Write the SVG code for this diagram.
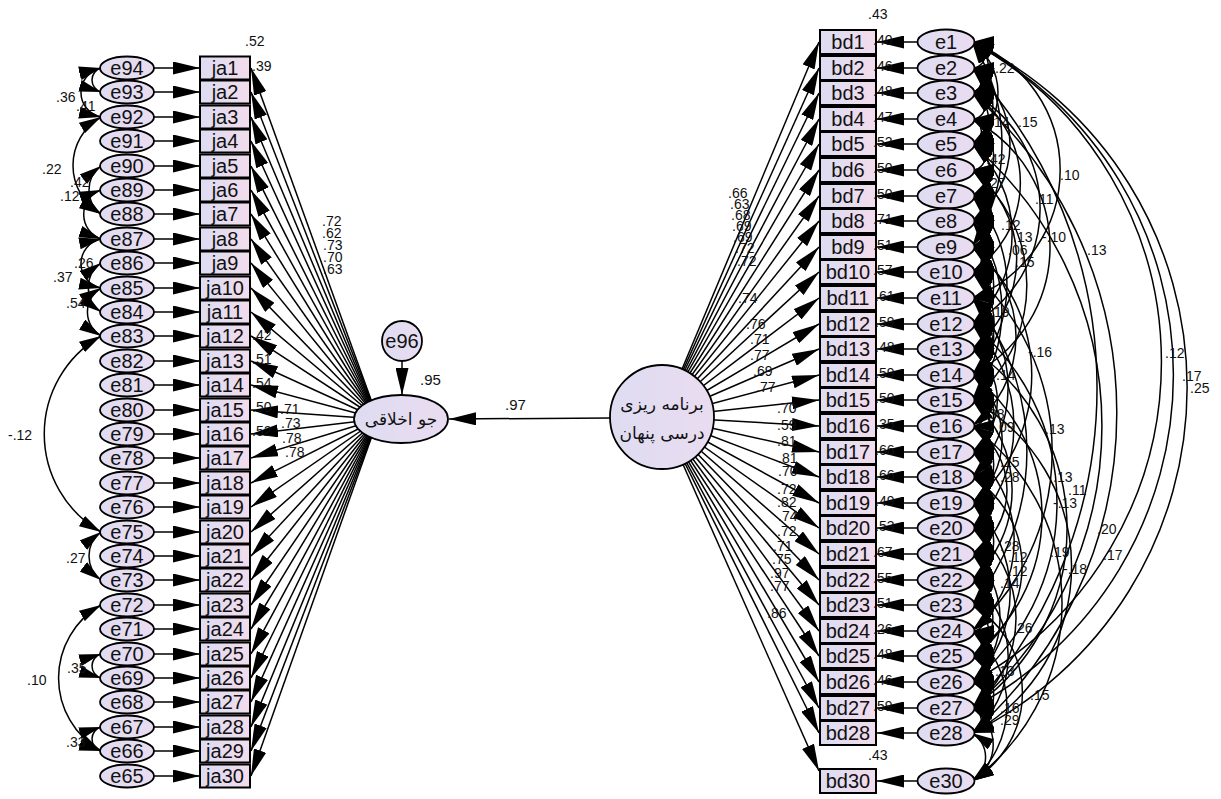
<svg xmlns="http://www.w3.org/2000/svg" width="1221" height="799" viewBox="0 0 1221 799">
<defs>
<style>
.c{fill:none;stroke:#000;stroke-width:1.5}
.f{marker-end:url(#ah)}
.a{fill:none;stroke:#000;stroke-width:1.5;marker-start:url(#as);marker-end:url(#ae)}
.el{fill:url(#gE);stroke:#000;stroke-width:1.8}
.bx{fill:url(#gB);stroke:#000;stroke-width:2}
.n{font-family:"Liberation Sans",Arial,sans-serif;font-size:20px;text-anchor:middle;fill:#111}
.l{font-family:"Liberation Sans",Arial,sans-serif;font-size:14px;fill:#111}
.ar{font-family:"DejaVu Sans","Noto Sans",sans-serif;font-size:17px;text-anchor:middle;fill:#111}
</style>
<linearGradient id="gB" x1="0" y1="0" x2="1" y2="0"><stop offset="0" stop-color="#dcdcf2"/><stop offset="1" stop-color="#f2dcec"/></linearGradient>
<linearGradient id="gE" x1="0" y1="0" x2="1" y2="0"><stop offset="0" stop-color="#dedcf2"/><stop offset="1" stop-color="#eadcf0"/></linearGradient>
<marker id="ah" markerUnits="userSpaceOnUse" markerWidth="27" markerHeight="13" refX="27" refY="6.5" orient="auto" viewBox="0 0 27 13"><path d="M0,0L27,6.5L0,13z" fill="#000"/></marker>
<marker id="ae" markerUnits="userSpaceOnUse" markerWidth="22" markerHeight="12" refX="22" refY="6" orient="auto" viewBox="0 0 22 12"><path d="M0,0L22,6L0,12z" fill="#000"/></marker>
<marker id="as" markerUnits="userSpaceOnUse" markerWidth="22" markerHeight="12" refX="22" refY="6" orient="auto-start-reverse" viewBox="0 0 22 12"><path d="M0,0L22,6L0,12z" fill="#000"/></marker>
</defs>
<rect width="1221" height="799" fill="#fff"/>
<g id="connectors">
<g class="c f">
<line x1="154" y1="68" x2="200" y2="68"/><line x1="154" y1="92" x2="200" y2="92"/><line x1="154" y1="117" x2="200" y2="117"/><line x1="154" y1="141" x2="200" y2="141"/><line x1="154" y1="166" x2="200" y2="166"/><line x1="154" y1="190" x2="200" y2="190"/><line x1="154" y1="214" x2="200" y2="214"/><line x1="154" y1="239" x2="200" y2="239"/><line x1="154" y1="263" x2="200" y2="263"/><line x1="154" y1="288" x2="200" y2="288"/><line x1="154" y1="312" x2="200" y2="312"/><line x1="154" y1="336" x2="200" y2="336"/><line x1="154" y1="361" x2="200" y2="361"/><line x1="154" y1="385" x2="200" y2="385"/><line x1="154" y1="410" x2="200" y2="410"/><line x1="154" y1="434" x2="200" y2="434"/><line x1="154" y1="458" x2="200" y2="458"/><line x1="154" y1="483" x2="200" y2="483"/><line x1="154" y1="507" x2="200" y2="507"/><line x1="154" y1="532" x2="200" y2="532"/><line x1="154" y1="556" x2="200" y2="556"/><line x1="154" y1="580" x2="200" y2="580"/><line x1="154" y1="605" x2="200" y2="605"/><line x1="154" y1="629" x2="200" y2="629"/><line x1="154" y1="654" x2="200" y2="654"/><line x1="154" y1="678" x2="200" y2="678"/><line x1="154" y1="702" x2="200" y2="702"/><line x1="154" y1="727" x2="200" y2="727"/><line x1="154" y1="751" x2="200" y2="751"/><line x1="154" y1="776" x2="200" y2="776"/>
<line x1="378" y1="419" x2="251" y2="68"/><line x1="378" y1="419" x2="251" y2="92"/><line x1="378" y1="419" x2="251" y2="117"/><line x1="378" y1="419" x2="251" y2="141"/><line x1="378" y1="419" x2="251" y2="166"/><line x1="378" y1="419" x2="251" y2="190"/><line x1="378" y1="419" x2="251" y2="214"/><line x1="378" y1="419" x2="251" y2="239"/><line x1="378" y1="419" x2="251" y2="263"/><line x1="378" y1="419" x2="251" y2="288"/><line x1="378" y1="419" x2="251" y2="312"/><line x1="378" y1="419" x2="251" y2="336"/><line x1="378" y1="419" x2="251" y2="361"/><line x1="378" y1="419" x2="251" y2="385"/><line x1="378" y1="419" x2="251" y2="410"/><line x1="378" y1="419" x2="251" y2="434"/><line x1="378" y1="419" x2="251" y2="458"/><line x1="378" y1="419" x2="251" y2="483"/><line x1="378" y1="419" x2="251" y2="507"/><line x1="378" y1="419" x2="251" y2="532"/><line x1="378" y1="419" x2="251" y2="556"/><line x1="378" y1="419" x2="251" y2="580"/><line x1="378" y1="419" x2="251" y2="605"/><line x1="378" y1="419" x2="251" y2="629"/><line x1="378" y1="419" x2="251" y2="654"/><line x1="378" y1="419" x2="251" y2="678"/><line x1="378" y1="419" x2="251" y2="702"/><line x1="378" y1="419" x2="251" y2="727"/><line x1="378" y1="419" x2="251" y2="751"/><line x1="378" y1="419" x2="251" y2="776"/>
<line x1="402" y1="361" x2="402" y2="395"/>
<line x1="610" y1="418" x2="449" y2="419"/>
<line x1="662" y1="417" x2="819" y2="42"/><line x1="662" y1="417" x2="819" y2="68"/><line x1="662" y1="417" x2="819" y2="93"/><line x1="662" y1="417" x2="819" y2="119"/><line x1="662" y1="417" x2="819" y2="144"/><line x1="662" y1="417" x2="819" y2="170"/><line x1="662" y1="417" x2="819" y2="196"/><line x1="662" y1="417" x2="819" y2="221"/><line x1="662" y1="417" x2="819" y2="247"/><line x1="662" y1="417" x2="819" y2="272"/><line x1="662" y1="417" x2="819" y2="298"/><line x1="662" y1="417" x2="819" y2="324"/><line x1="662" y1="417" x2="819" y2="349"/><line x1="662" y1="417" x2="819" y2="375"/><line x1="662" y1="417" x2="819" y2="400"/><line x1="662" y1="417" x2="819" y2="426"/><line x1="662" y1="417" x2="819" y2="452"/><line x1="662" y1="417" x2="819" y2="477"/><line x1="662" y1="417" x2="819" y2="503"/><line x1="662" y1="417" x2="819" y2="528"/><line x1="662" y1="417" x2="819" y2="554"/><line x1="662" y1="417" x2="819" y2="580"/><line x1="662" y1="417" x2="819" y2="605"/><line x1="662" y1="417" x2="819" y2="631"/><line x1="662" y1="417" x2="819" y2="656"/><line x1="662" y1="417" x2="819" y2="682"/><line x1="662" y1="417" x2="819" y2="708"/><line x1="662" y1="417" x2="819" y2="733"/><line x1="662" y1="417" x2="819" y2="771"/>
<line x1="917" y1="42" x2="877" y2="42"/><line x1="917" y1="68" x2="877" y2="68"/><line x1="917" y1="93" x2="877" y2="93"/><line x1="917" y1="119" x2="877" y2="119"/><line x1="917" y1="144" x2="877" y2="144"/><line x1="917" y1="170" x2="877" y2="170"/><line x1="917" y1="196" x2="877" y2="196"/><line x1="917" y1="221" x2="877" y2="221"/><line x1="917" y1="247" x2="877" y2="247"/><line x1="917" y1="272" x2="877" y2="272"/><line x1="917" y1="298" x2="877" y2="298"/><line x1="917" y1="324" x2="877" y2="324"/><line x1="917" y1="349" x2="877" y2="349"/><line x1="917" y1="375" x2="877" y2="375"/><line x1="917" y1="400" x2="877" y2="400"/><line x1="917" y1="426" x2="877" y2="426"/><line x1="917" y1="452" x2="877" y2="452"/><line x1="917" y1="477" x2="877" y2="477"/><line x1="917" y1="503" x2="877" y2="503"/><line x1="917" y1="528" x2="877" y2="528"/><line x1="917" y1="554" x2="877" y2="554"/><line x1="917" y1="580" x2="877" y2="580"/><line x1="917" y1="605" x2="877" y2="605"/><line x1="917" y1="631" x2="877" y2="631"/><line x1="917" y1="656" x2="877" y2="656"/><line x1="917" y1="682" x2="877" y2="682"/><line x1="917" y1="708" x2="877" y2="708"/><line x1="917" y1="733" x2="877" y2="733"/><line x1="917" y1="781" x2="877" y2="781"/>
</g>
<g>
<path class="a" d="M101,68A25,25 0 0 0 101,117"/><path class="a" d="M101,68A12.5,12.5 0 0 0 101,92"/><path class="a" d="M101,117A56,56 0 0 0 101,214"/><path class="a" d="M101,166A30,30 0 0 0 101,214"/><path class="a" d="M101,190A26,26 0 0 0 101,239"/><path class="a" d="M101,239A25,25 0 0 0 101,288"/><path class="a" d="M101,263A30,30 0 0 0 101,312"/><path class="a" d="M101,288A28,28 0 0 0 101,336"/><path class="a" d="M101,336A113,113 0 0 0 101,532"/><path class="a" d="M101,532A30,30 0 0 0 101,580"/><path class="a" d="M101,605A84,84 0 0 0 101,751"/><path class="a" d="M101,654A12.5,12.5 0 0 0 101,678"/><path class="a" d="M101,727A12.5,12.5 0 0 0 101,751"/>
</g>
<g>
<path class="a" d="M972,42A13,13 0 0 1 972,68"/><path class="a" d="M972,68A13,13 0 0 1 972,93"/><path class="a" d="M972,93A13,13 0 0 1 972,119"/><path class="a" d="M972,119A13,13 0 0 1 972,144"/><path class="a" d="M972,144A13,13 0 0 1 972,170"/><path class="a" d="M972,170A13,13 0 0 1 972,196"/><path class="a" d="M972,196A13,13 0 0 1 972,221"/><path class="a" d="M972,221A13,13 0 0 1 972,247"/><path class="a" d="M972,247A13,13 0 0 1 972,272"/><path class="a" d="M972,272A13,13 0 0 1 972,298"/><path class="a" d="M972,298A13,13 0 0 1 972,324"/><path class="a" d="M972,324A13,13 0 0 1 972,349"/><path class="a" d="M972,349A13,13 0 0 1 972,375"/><path class="a" d="M972,375A13,13 0 0 1 972,400"/><path class="a" d="M972,400A13,13 0 0 1 972,426"/><path class="a" d="M972,426A13,13 0 0 1 972,452"/><path class="a" d="M972,452A13,13 0 0 1 972,477"/><path class="a" d="M972,477A13,13 0 0 1 972,503"/><path class="a" d="M972,503A13,13 0 0 1 972,528"/><path class="a" d="M972,528A13,13 0 0 1 972,554"/><path class="a" d="M972,554A13,13 0 0 1 972,580"/><path class="a" d="M972,580A13,13 0 0 1 972,605"/><path class="a" d="M972,605A13,13 0 0 1 972,631"/><path class="a" d="M972,631A13,13 0 0 1 972,656"/><path class="a" d="M972,656A13,13 0 0 1 972,682"/><path class="a" d="M972,682A13,13 0 0 1 972,708"/><path class="a" d="M972,708A13,13 0 0 1 972,733"/>
<path class="a" d="M972,42A28,28 0 0 1 972,93"/><path class="a" d="M972,93A28,28 0 0 1 972,144"/><path class="a" d="M972,144A28,28 0 0 1 972,196"/><path class="a" d="M972,170A28,28 0 0 1 972,221"/><path class="a" d="M972,196A28,28 0 0 1 972,247"/><path class="a" d="M972,221A28,28 0 0 1 972,272"/><path class="a" d="M972,272A28,28 0 0 1 972,324"/><path class="a" d="M972,324A28,28 0 0 1 972,375"/><path class="a" d="M972,349A28,28 0 0 1 972,400"/><path class="a" d="M972,400A28,28 0 0 1 972,452"/><path class="a" d="M972,452A28,28 0 0 1 972,503"/><path class="a" d="M972,477A28,28 0 0 1 972,528"/><path class="a" d="M972,503A28,28 0 0 1 972,554"/><path class="a" d="M972,528A28,28 0 0 1 972,580"/><path class="a" d="M972,554A28,28 0 0 1 972,605"/><path class="a" d="M972,605A28,28 0 0 1 972,656"/><path class="a" d="M972,631A28,28 0 0 1 972,682"/><path class="a" d="M972,656A28,28 0 0 1 972,708"/><path class="a" d="M972,682A28,28 0 0 1 972,733"/><path class="a" d="M972,733A28,28 0 0 1 972,781"/>
<path class="a" d="M972,68A45,45 0 0 1 972,144"/><path class="a" d="M972,119A45,45 0 0 1 972,196"/><path class="a" d="M972,247A45,45 0 0 1 972,324"/><path class="a" d="M972,298A45,45 0 0 1 972,375"/><path class="a" d="M972,375A45,45 0 0 1 972,452"/><path class="a" d="M972,426A45,45 0 0 1 972,503"/><path class="a" d="M972,503A45,45 0 0 1 972,580"/><path class="a" d="M972,580A45,45 0 0 1 972,656"/><path class="a" d="M972,656A45,45 0 0 1 972,733"/><path class="a" d="M972,708A42,42 0 0 1 972,781"/>
<path class="a" d="M972,42A190,190 0 0 1 972,247"/><path class="a" d="M972,68A96,96 0 0 1 972,221"/><path class="a" d="M972,42A63,63 0 0 1 972,144"/><path class="a" d="M972,93A107,107 0 0 1 972,272"/><path class="a" d="M972,144A121,121 0 0 1 972,324"/><path class="a" d="M972,170A112,112 0 0 1 972,349"/><path class="a" d="M972,196A132,132 0 0 1 972,375"/><path class="a" d="M972,221A149,149 0 0 1 972,400"/><path class="a" d="M972,247A113,113 0 0 1 972,426"/><path class="a" d="M972,298A129,129 0 0 1 972,477"/><path class="a" d="M972,324A145,145 0 0 1 972,528"/><path class="a" d="M972,375A83,83 0 0 1 972,503"/><path class="a" d="M972,400A121,121 0 0 1 972,580"/><path class="a" d="M972,426A76,76 0 0 1 972,554"/><path class="a" d="M972,452A116,116 0 0 1 972,631"/><path class="a" d="M972,477A105,105 0 0 1 972,656"/><path class="a" d="M972,503A124,124 0 0 1 972,682"/><path class="a" d="M972,528A114,114 0 0 1 972,708"/><path class="a" d="M972,580A99,99 0 0 1 972,733"/><path class="a" d="M972,605A102,102 0 0 1 972,781"/><path class="a" d="M972,554A87,87 0 0 1 972,682"/><path class="a" d="M972,631A98,98 0 0 1 972,781"/><path class="a" d="M972,349A65,65 0 0 1 972,452"/><path class="a" d="M972,272A71,71 0 0 1 972,375"/>
<path class="a" d="M972,42A137,137 0 0 1 972,298"/><path class="a" d="M972,93A132,132 0 0 1 972,324"/><path class="a" d="M972,119A144,144 0 0 1 972,375"/><path class="a" d="M972,68A472,472 0 0 1 972,708"/><path class="a" d="M972,272A241,241 0 0 1 972,631"/><path class="a" d="M972,324A231,231 0 0 1 972,682"/><path class="a" d="M972,375A176,176 0 0 1 972,656"/><path class="a" d="M972,349A217,217 0 0 1 972,708"/><path class="a" d="M972,400A189,189 0 0 1 972,733"/><path class="a" d="M972,426A220,220 0 0 1 972,781"/><path class="a" d="M972,144A371,371 0 0 1 972,708"/><path class="a" d="M972,93A426,426 0 0 1 972,733"/><path class="a" d="M972,298A242,242 0 0 1 972,605"/><path class="a" d="M972,247A167,167 0 0 1 972,503"/><path class="a" d="M972,170A148,148 0 0 1 972,400"/>
<path class="a" d="M972,42A365,365 0 0 1 972,682"/><path class="a" d="M972,42A376,376 0 0 1 972,708"/><path class="a" d="M972,42A385,385 0 0 1 972,733"/>
</g>
</g>
<g id="nodes-left">
<g id="e94"><ellipse class="el" cx="127" cy="68" rx="27" ry="11.5"/><text class="n" x="127" y="75">e94</text></g>
<g id="e93"><ellipse class="el" cx="127" cy="92" rx="27" ry="11.5"/><text class="n" x="127" y="99">e93</text></g>
<g id="e92"><ellipse class="el" cx="127" cy="117" rx="27" ry="11.5"/><text class="n" x="127" y="124">e92</text></g>
<g id="e91"><ellipse class="el" cx="127" cy="141" rx="27" ry="11.5"/><text class="n" x="127" y="148">e91</text></g>
<g id="e90"><ellipse class="el" cx="127" cy="166" rx="27" ry="11.5"/><text class="n" x="127" y="173">e90</text></g>
<g id="e89"><ellipse class="el" cx="127" cy="190" rx="27" ry="11.5"/><text class="n" x="127" y="197">e89</text></g>
<g id="e88"><ellipse class="el" cx="127" cy="214" rx="27" ry="11.5"/><text class="n" x="127" y="221">e88</text></g>
<g id="e87"><ellipse class="el" cx="127" cy="239" rx="27" ry="11.5"/><text class="n" x="127" y="246">e87</text></g>
<g id="e86"><ellipse class="el" cx="127" cy="263" rx="27" ry="11.5"/><text class="n" x="127" y="270">e86</text></g>
<g id="e85"><ellipse class="el" cx="127" cy="288" rx="27" ry="11.5"/><text class="n" x="127" y="295">e85</text></g>
<g id="e84"><ellipse class="el" cx="127" cy="312" rx="27" ry="11.5"/><text class="n" x="127" y="319">e84</text></g>
<g id="e83"><ellipse class="el" cx="127" cy="336" rx="27" ry="11.5"/><text class="n" x="127" y="343">e83</text></g>
<g id="e82"><ellipse class="el" cx="127" cy="361" rx="27" ry="11.5"/><text class="n" x="127" y="368">e82</text></g>
<g id="e81"><ellipse class="el" cx="127" cy="385" rx="27" ry="11.5"/><text class="n" x="127" y="392">e81</text></g>
<g id="e80"><ellipse class="el" cx="127" cy="410" rx="27" ry="11.5"/><text class="n" x="127" y="417">e80</text></g>
<g id="e79"><ellipse class="el" cx="127" cy="434" rx="27" ry="11.5"/><text class="n" x="127" y="441">e79</text></g>
<g id="e78"><ellipse class="el" cx="127" cy="458" rx="27" ry="11.5"/><text class="n" x="127" y="465">e78</text></g>
<g id="e77"><ellipse class="el" cx="127" cy="483" rx="27" ry="11.5"/><text class="n" x="127" y="490">e77</text></g>
<g id="e76"><ellipse class="el" cx="127" cy="507" rx="27" ry="11.5"/><text class="n" x="127" y="514">e76</text></g>
<g id="e75"><ellipse class="el" cx="127" cy="532" rx="27" ry="11.5"/><text class="n" x="127" y="539">e75</text></g>
<g id="e74"><ellipse class="el" cx="127" cy="556" rx="27" ry="11.5"/><text class="n" x="127" y="563">e74</text></g>
<g id="e73"><ellipse class="el" cx="127" cy="580" rx="27" ry="11.5"/><text class="n" x="127" y="587">e73</text></g>
<g id="e72"><ellipse class="el" cx="127" cy="605" rx="27" ry="11.5"/><text class="n" x="127" y="612">e72</text></g>
<g id="e71"><ellipse class="el" cx="127" cy="629" rx="27" ry="11.5"/><text class="n" x="127" y="636">e71</text></g>
<g id="e70"><ellipse class="el" cx="127" cy="654" rx="27" ry="11.5"/><text class="n" x="127" y="661">e70</text></g>
<g id="e69"><ellipse class="el" cx="127" cy="678" rx="27" ry="11.5"/><text class="n" x="127" y="685">e69</text></g>
<g id="e68"><ellipse class="el" cx="127" cy="702" rx="27" ry="11.5"/><text class="n" x="127" y="709">e68</text></g>
<g id="e67"><ellipse class="el" cx="127" cy="727" rx="27" ry="11.5"/><text class="n" x="127" y="734">e67</text></g>
<g id="e66"><ellipse class="el" cx="127" cy="751" rx="27" ry="11.5"/><text class="n" x="127" y="758">e66</text></g>
<g id="e65"><ellipse class="el" cx="127" cy="776" rx="27" ry="11.5"/><text class="n" x="127" y="783">e65</text></g>
<g id="ja1"><rect class="bx" x="200" y="56.5" width="50" height="23"/><text class="n" x="225" y="75">ja1</text></g>
<g id="ja2"><rect class="bx" x="200" y="80.5" width="50" height="23"/><text class="n" x="225" y="99">ja2</text></g>
<g id="ja3"><rect class="bx" x="200" y="105.5" width="50" height="23"/><text class="n" x="225" y="124">ja3</text></g>
<g id="ja4"><rect class="bx" x="200" y="129.5" width="50" height="23"/><text class="n" x="225" y="148">ja4</text></g>
<g id="ja5"><rect class="bx" x="200" y="154.5" width="50" height="23"/><text class="n" x="225" y="173">ja5</text></g>
<g id="ja6"><rect class="bx" x="200" y="178.5" width="50" height="23"/><text class="n" x="225" y="197">ja6</text></g>
<g id="ja7"><rect class="bx" x="200" y="202.5" width="50" height="23"/><text class="n" x="225" y="221">ja7</text></g>
<g id="ja8"><rect class="bx" x="200" y="227.5" width="50" height="23"/><text class="n" x="225" y="246">ja8</text></g>
<g id="ja9"><rect class="bx" x="200" y="251.5" width="50" height="23"/><text class="n" x="225" y="270">ja9</text></g>
<g id="ja10"><rect class="bx" x="200" y="276.5" width="50" height="23"/><text class="n" x="225" y="295">ja10</text></g>
<g id="ja11"><rect class="bx" x="200" y="300.5" width="50" height="23"/><text class="n" x="225" y="319">ja11</text></g>
<g id="ja12"><rect class="bx" x="200" y="324.5" width="50" height="23"/><text class="n" x="225" y="343">ja12</text></g>
<g id="ja13"><rect class="bx" x="200" y="349.5" width="50" height="23"/><text class="n" x="225" y="368">ja13</text></g>
<g id="ja14"><rect class="bx" x="200" y="373.5" width="50" height="23"/><text class="n" x="225" y="392">ja14</text></g>
<g id="ja15"><rect class="bx" x="200" y="398.5" width="50" height="23"/><text class="n" x="225" y="417">ja15</text></g>
<g id="ja16"><rect class="bx" x="200" y="422.5" width="50" height="23"/><text class="n" x="225" y="441">ja16</text></g>
<g id="ja17"><rect class="bx" x="200" y="446.5" width="50" height="23"/><text class="n" x="225" y="465">ja17</text></g>
<g id="ja18"><rect class="bx" x="200" y="471.5" width="50" height="23"/><text class="n" x="225" y="490">ja18</text></g>
<g id="ja19"><rect class="bx" x="200" y="495.5" width="50" height="23"/><text class="n" x="225" y="514">ja19</text></g>
<g id="ja20"><rect class="bx" x="200" y="520.5" width="50" height="23"/><text class="n" x="225" y="539">ja20</text></g>
<g id="ja21"><rect class="bx" x="200" y="544.5" width="50" height="23"/><text class="n" x="225" y="563">ja21</text></g>
<g id="ja22"><rect class="bx" x="200" y="568.5" width="50" height="23"/><text class="n" x="225" y="587">ja22</text></g>
<g id="ja23"><rect class="bx" x="200" y="593.5" width="50" height="23"/><text class="n" x="225" y="612">ja23</text></g>
<g id="ja24"><rect class="bx" x="200" y="617.5" width="50" height="23"/><text class="n" x="225" y="636">ja24</text></g>
<g id="ja25"><rect class="bx" x="200" y="642.5" width="50" height="23"/><text class="n" x="225" y="661">ja25</text></g>
<g id="ja26"><rect class="bx" x="200" y="666.5" width="50" height="23"/><text class="n" x="225" y="685">ja26</text></g>
<g id="ja27"><rect class="bx" x="200" y="690.5" width="50" height="23"/><text class="n" x="225" y="709">ja27</text></g>
<g id="ja28"><rect class="bx" x="200" y="715.5" width="50" height="23"/><text class="n" x="225" y="734">ja28</text></g>
<g id="ja29"><rect class="bx" x="200" y="739.5" width="50" height="23"/><text class="n" x="225" y="758">ja29</text></g>
<g id="ja30"><rect class="bx" x="200" y="764.5" width="50" height="23"/><text class="n" x="225" y="783">ja30</text></g>
</g>
<g id="nodes-center">
<g id="e96"><circle class="el" cx="402" cy="341" r="20"/><text class="n" x="402" y="348">e96</text></g>
<g id="jav-akhlaghi"><ellipse class="el" cx="401" cy="419" rx="47" ry="24"/><text class="ar" x="401" y="425">جو اخلاقی</text></g>
<g id="barnameh"><circle class="el" cx="662" cy="417" r="52"/><text class="ar" x="662" y="410">برنامه ریزی</text><text class="ar" x="662" y="439">درسی پنهان</text></g>
</g>
<g id="nodes-right">
<g id="bd1"><rect class="bx" x="820" y="30" width="56" height="24"/><text class="n" x="848" y="49">bd1</text></g>
<g id="bd2"><rect class="bx" x="820" y="56" width="56" height="24"/><text class="n" x="848" y="75">bd2</text></g>
<g id="bd3"><rect class="bx" x="820" y="81" width="56" height="24"/><text class="n" x="848" y="100">bd3</text></g>
<g id="bd4"><rect class="bx" x="820" y="107" width="56" height="24"/><text class="n" x="848" y="126">bd4</text></g>
<g id="bd5"><rect class="bx" x="820" y="132" width="56" height="24"/><text class="n" x="848" y="151">bd5</text></g>
<g id="bd6"><rect class="bx" x="820" y="158" width="56" height="24"/><text class="n" x="848" y="177">bd6</text></g>
<g id="bd7"><rect class="bx" x="820" y="184" width="56" height="24"/><text class="n" x="848" y="203">bd7</text></g>
<g id="bd8"><rect class="bx" x="820" y="209" width="56" height="24"/><text class="n" x="848" y="228">bd8</text></g>
<g id="bd9"><rect class="bx" x="820" y="235" width="56" height="24"/><text class="n" x="848" y="254">bd9</text></g>
<g id="bd10"><rect class="bx" x="820" y="260" width="56" height="24"/><text class="n" x="848" y="279">bd10</text></g>
<g id="bd11"><rect class="bx" x="820" y="286" width="56" height="24"/><text class="n" x="848" y="305">bd11</text></g>
<g id="bd12"><rect class="bx" x="820" y="312" width="56" height="24"/><text class="n" x="848" y="331">bd12</text></g>
<g id="bd13"><rect class="bx" x="820" y="337" width="56" height="24"/><text class="n" x="848" y="356">bd13</text></g>
<g id="bd14"><rect class="bx" x="820" y="363" width="56" height="24"/><text class="n" x="848" y="382">bd14</text></g>
<g id="bd15"><rect class="bx" x="820" y="388" width="56" height="24"/><text class="n" x="848" y="407">bd15</text></g>
<g id="bd16"><rect class="bx" x="820" y="414" width="56" height="24"/><text class="n" x="848" y="433">bd16</text></g>
<g id="bd17"><rect class="bx" x="820" y="440" width="56" height="24"/><text class="n" x="848" y="459">bd17</text></g>
<g id="bd18"><rect class="bx" x="820" y="465" width="56" height="24"/><text class="n" x="848" y="484">bd18</text></g>
<g id="bd19"><rect class="bx" x="820" y="491" width="56" height="24"/><text class="n" x="848" y="510">bd19</text></g>
<g id="bd20"><rect class="bx" x="820" y="516" width="56" height="24"/><text class="n" x="848" y="535">bd20</text></g>
<g id="bd21"><rect class="bx" x="820" y="542" width="56" height="24"/><text class="n" x="848" y="561">bd21</text></g>
<g id="bd22"><rect class="bx" x="820" y="568" width="56" height="24"/><text class="n" x="848" y="587">bd22</text></g>
<g id="bd23"><rect class="bx" x="820" y="593" width="56" height="24"/><text class="n" x="848" y="612">bd23</text></g>
<g id="bd24"><rect class="bx" x="820" y="619" width="56" height="24"/><text class="n" x="848" y="638">bd24</text></g>
<g id="bd25"><rect class="bx" x="820" y="644" width="56" height="24"/><text class="n" x="848" y="663">bd25</text></g>
<g id="bd26"><rect class="bx" x="820" y="670" width="56" height="24"/><text class="n" x="848" y="689">bd26</text></g>
<g id="bd27"><rect class="bx" x="820" y="696" width="56" height="24"/><text class="n" x="848" y="715">bd27</text></g>
<g id="bd28"><rect class="bx" x="820" y="721" width="56" height="24"/><text class="n" x="848" y="740">bd28</text></g>
<g id="bd30"><rect class="bx" x="820" y="769" width="56" height="24"/><text class="n" x="848" y="788">bd30</text></g>
<g id="e1"><ellipse class="el" cx="946" cy="42" rx="28.5" ry="12.5"/><text class="n" x="946" y="49">e1</text></g>
<g id="e2"><ellipse class="el" cx="946" cy="68" rx="28.5" ry="12.5"/><text class="n" x="946" y="75">e2</text></g>
<g id="e3"><ellipse class="el" cx="946" cy="93" rx="28.5" ry="12.5"/><text class="n" x="946" y="100">e3</text></g>
<g id="e4"><ellipse class="el" cx="946" cy="119" rx="28.5" ry="12.5"/><text class="n" x="946" y="126">e4</text></g>
<g id="e5"><ellipse class="el" cx="946" cy="144" rx="28.5" ry="12.5"/><text class="n" x="946" y="151">e5</text></g>
<g id="e6"><ellipse class="el" cx="946" cy="170" rx="28.5" ry="12.5"/><text class="n" x="946" y="177">e6</text></g>
<g id="e7"><ellipse class="el" cx="946" cy="196" rx="28.5" ry="12.5"/><text class="n" x="946" y="203">e7</text></g>
<g id="e8"><ellipse class="el" cx="946" cy="221" rx="28.5" ry="12.5"/><text class="n" x="946" y="228">e8</text></g>
<g id="e9"><ellipse class="el" cx="946" cy="247" rx="28.5" ry="12.5"/><text class="n" x="946" y="254">e9</text></g>
<g id="e10"><ellipse class="el" cx="946" cy="272" rx="28.5" ry="12.5"/><text class="n" x="946" y="279">e10</text></g>
<g id="e11"><ellipse class="el" cx="946" cy="298" rx="28.5" ry="12.5"/><text class="n" x="946" y="305">e11</text></g>
<g id="e12"><ellipse class="el" cx="946" cy="324" rx="28.5" ry="12.5"/><text class="n" x="946" y="331">e12</text></g>
<g id="e13"><ellipse class="el" cx="946" cy="349" rx="28.5" ry="12.5"/><text class="n" x="946" y="356">e13</text></g>
<g id="e14"><ellipse class="el" cx="946" cy="375" rx="28.5" ry="12.5"/><text class="n" x="946" y="382">e14</text></g>
<g id="e15"><ellipse class="el" cx="946" cy="400" rx="28.5" ry="12.5"/><text class="n" x="946" y="407">e15</text></g>
<g id="e16"><ellipse class="el" cx="946" cy="426" rx="28.5" ry="12.5"/><text class="n" x="946" y="433">e16</text></g>
<g id="e17"><ellipse class="el" cx="946" cy="452" rx="28.5" ry="12.5"/><text class="n" x="946" y="459">e17</text></g>
<g id="e18"><ellipse class="el" cx="946" cy="477" rx="28.5" ry="12.5"/><text class="n" x="946" y="484">e18</text></g>
<g id="e19"><ellipse class="el" cx="946" cy="503" rx="28.5" ry="12.5"/><text class="n" x="946" y="510">e19</text></g>
<g id="e20"><ellipse class="el" cx="946" cy="528" rx="28.5" ry="12.5"/><text class="n" x="946" y="535">e20</text></g>
<g id="e21"><ellipse class="el" cx="946" cy="554" rx="28.5" ry="12.5"/><text class="n" x="946" y="561">e21</text></g>
<g id="e22"><ellipse class="el" cx="946" cy="580" rx="28.5" ry="12.5"/><text class="n" x="946" y="587">e22</text></g>
<g id="e23"><ellipse class="el" cx="946" cy="605" rx="28.5" ry="12.5"/><text class="n" x="946" y="612">e23</text></g>
<g id="e24"><ellipse class="el" cx="946" cy="631" rx="28.5" ry="12.5"/><text class="n" x="946" y="638">e24</text></g>
<g id="e25"><ellipse class="el" cx="946" cy="656" rx="28.5" ry="12.5"/><text class="n" x="946" y="663">e25</text></g>
<g id="e26"><ellipse class="el" cx="946" cy="682" rx="28.5" ry="12.5"/><text class="n" x="946" y="689">e26</text></g>
<g id="e27"><ellipse class="el" cx="946" cy="708" rx="28.5" ry="12.5"/><text class="n" x="946" y="715">e27</text></g>
<g id="e28"><ellipse class="el" cx="946" cy="733" rx="28.5" ry="12.5"/><text class="n" x="946" y="740">e28</text></g>
<g id="e30"><ellipse class="el" cx="946" cy="781" rx="28.5" ry="12.5"/><text class="n" x="946" y="788">e30</text></g>
</g>
<g id="labels" class="l">
<text x="245" y="46">.52</text><text x="252" y="71">.39</text><text x="252" y="340">.42</text><text x="252" y="364">.51</text><text x="252" y="388">.54</text><text x="252" y="412">.50</text><text x="252" y="436">.52</text>
<text x="56" y="102">.36</text><text x="76" y="111">.41</text><text x="42" y="174">.22</text><text x="70" y="187">.42</text><text x="60" y="201">.12</text><text x="74" y="268">.26</text><text x="53" y="282">.37</text><text x="66" y="308">.54</text><text x="8" y="440">-.12</text><text x="66" y="563">.27</text><text x="27" y="685">.10</text><text x="67" y="673">.35</text><text x="66" y="747">.33</text>
<text x="322" y="226">.72</text><text x="322" y="238">.62</text><text x="323" y="250">.73</text><text x="323" y="262">.70</text><text x="323" y="274">.63</text>
<text x="420" y="385" style="font-size:15px">.95</text><text x="505" y="410" style="font-size:15px">.97</text>
<text x="280" y="414">.71</text><text x="281" y="428">.73</text><text x="282" y="443">.78</text><text x="285" y="457">.78</text>
<text x="728" y="198">.66</text><text x="730" y="209">.63</text><text x="731" y="220">.68</text><text x="732" y="231">.69</text><text x="733" y="242">.69</text><text x="735" y="253">.72</text><text x="737" y="266">.72</text><text x="738" y="303">.74</text><text x="746" y="329">.76</text><text x="750" y="344">.71</text><text x="750" y="360">.77</text><text x="753" y="376">.69</text><text x="756" y="392">.77</text><text x="777" y="413">.70</text><text x="777" y="430">.59</text><text x="777" y="446">.81</text><text x="778" y="463">.81</text><text x="778" y="476">.70</text><text x="777" y="494">.72</text><text x="777" y="507">.82</text><text x="778" y="521">.74</text><text x="777" y="536">.72</text><text x="773" y="551">.71</text><text x="772" y="564">.75</text><text x="770" y="578">.97</text><text x="770" y="591">.77</text><text x="767" y="618">.86</text>
<text x="868" y="19">.43</text><text x="868" y="760">.43</text>
<text x="873" y="45">.40</text><text x="873" y="71">.46</text><text x="873" y="96">.48</text><text x="873" y="122">.47</text><text x="873" y="147">.52</text><text x="873" y="173">.50</text><text x="873" y="199">.50</text><text x="873" y="224">.71</text><text x="873" y="250">.51</text><text x="873" y="275">.57</text><text x="875" y="301">.61</text><text x="875" y="327">.59</text><text x="875" y="352">.48</text><text x="875" y="378">.59</text><text x="875" y="403">.50</text><text x="875" y="429">.35</text><text x="875" y="455">.66</text><text x="875" y="480">.66</text><text x="875" y="506">.49</text><text x="875" y="531">.53</text><text x="873" y="557">.67</text><text x="873" y="583">.55</text><text x="873" y="608">.51</text><text x="873" y="634">.26</text><text x="873" y="659">.48</text><text x="873" y="685">.46</text><text x="873" y="711">.59</text>
<text x="995" y="73">.22</text><text x="990" y="127">.14</text><text x="1018" y="127">.15</text><text x="1060" y="180">.10</text><text x="986" y="164">.42</text><text x="986" y="188">.27</text><text x="1035" y="204">.11</text><text x="1001" y="230">.12</text><text x="1013" y="242">.13</text><text x="1042" y="242">-.10</text><text x="1087" y="255">.13</text><text x="1008" y="255">.06</text><text x="1015" y="267">.15</text><text x="990" y="317">.19</text><text x="1028" y="357">-.16</text><text x="1165" y="358">.12</text><text x="1182" y="381">.17</text><text x="1190" y="393">.25</text><text x="996" y="380">.14</text>
<text x="985" y="419">.38</text><text x="995" y="432">.09</text><text x="1045" y="434">.13</text><text x="1000" y="467">.15</text><text x="1000" y="482">.28</text><text x="1053" y="482">.13</text><text x="1068" y="495">.11</text><text x="1053" y="508">-.13</text><text x="1097" y="534">.20</text><text x="1000" y="551">.28</text><text x="1008" y="562">.12</text><text x="1050" y="557">.19</text><text x="1103" y="560">.17</text><text x="1063" y="574">-.18</text><text x="1008" y="576">.12</text><text x="1000" y="588">.14</text><text x="1013" y="633">.26</text><text x="995" y="676">.13</text><text x="1030" y="700">.15</text><text x="1000" y="713">.16</text><text x="1000" y="725">.29</text>
</g>
</svg>
